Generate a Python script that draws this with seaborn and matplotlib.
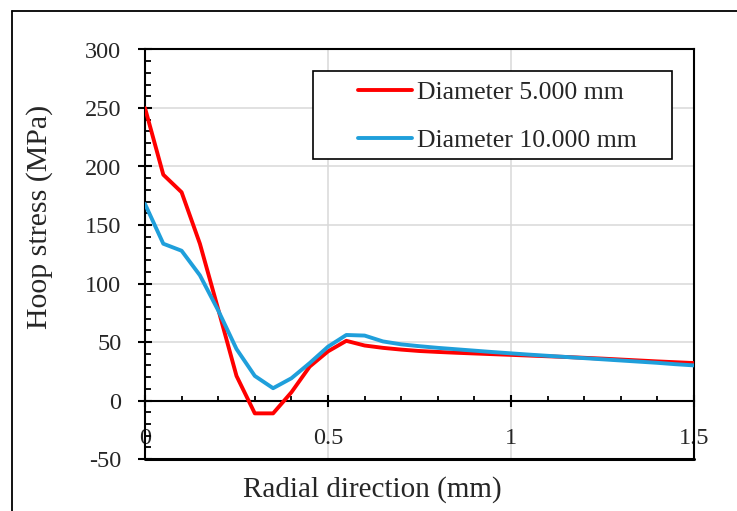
import numpy as np
import pandas as pd
import seaborn as sns
import matplotlib
matplotlib.use("Agg")
import matplotlib.pyplot as plt
from matplotlib.patches import Rectangle
from matplotlib.lines import Line2D
from matplotlib.ticker import MultipleLocator

# ---- data ----
radial = [0.00, 0.05, 0.10, 0.15, 0.20, 0.25, 0.30, 0.35, 0.40, 0.45,
          0.50, 0.55, 0.60, 0.65, 0.70, 0.75, 0.80, 0.85, 0.90, 0.95,
          1.00, 1.05, 1.10, 1.15, 1.20, 1.25, 1.30, 1.35, 1.40, 1.45, 1.50]
stress_d5 = [250, 193, 178, 134, 78, 21, -11, -11, 7, 29,
             42, 51, 47, 45, 43.5, 42.3, 41.5, 40.8, 40.2, 39.6,
             39, 38.4, 37.8, 37.2, 36.5, 35.8, 35, 34.2, 33.4, 32.7, 32]
stress_d10 = [168, 134, 128, 107, 77, 44, 21, 10.5, 19, 32,
              46, 56, 55.5, 50.5, 48, 46.4, 45, 43.8, 42.6, 41.4,
              40.3, 39.2, 38.2, 37.2, 36.2, 35.2, 34.2, 33.2, 32.2, 31, 30]
series_names = ["Diameter 5.000 mm", "Diameter 10.000 mm"]
series_colors = ["#FF0000", "#1F9FDB"]
x_ticks = [0, 0.5, 1, 1.5]
x_ticklabels = ["0", "0.5", "1", "1.5"]
y_ticks = [-50, 0, 50, 100, 150, 200, 250, 300]

df = pd.concat([
    pd.DataFrame({"x": radial, "y": stress_d5, "series": series_names[0]}),
    pd.DataFrame({"x": radial, "y": stress_d10, "series": series_names[1]}),
], ignore_index=True)

sns.set_style("white")
plt.rcParams["font.family"] = ["Liberation Serif", "DejaVu Serif"]
plt.rcParams["axes.unicode_minus"] = False

W, H = 737, 511
fig = plt.figure(figsize=(W / 100, H / 100), dpi=100)
ax = fig.add_axes([145 / W, 1 - 459 / H, (694 - 145) / W, (459 - 49.5) / H])

sns.lineplot(data=df, x="x", y="y", hue="series", palette=series_colors,
             hue_order=series_names, linewidth=2.8, ax=ax, legend=False,
             sort=False, zorder=3)

ax.set_xlim(0, 1.5)
ax.set_ylim(-50, 300)

# grid
ax.set_xticks(x_ticks)
ax.set_xticklabels(x_ticklabels)
ax.set_yticks(y_ticks)
ax.xaxis.set_minor_locator(MultipleLocator(0.1))
ax.yaxis.set_minor_locator(MultipleLocator(10))
ax.grid(True, which="major", color="#D9D9D9", linewidth=1.1, zorder=0)
ax.set_axisbelow(True)

# spines
for s in ["top", "right", "left"]:
    ax.spines[s].set_color("black")
    ax.spines[s].set_linewidth(1.5)
    ax.spines[s].set_visible(True)
ax.spines["bottom"].set_position(("data", 0))
ax.spines["bottom"].set_color("black")
ax.spines["bottom"].set_linewidth(1.5)
ax.plot([0, 1], [0, 0], transform=ax.transAxes, color="black", lw=2.2,
        clip_on=False, zorder=4)

ax.tick_params(axis="x", which="major", direction="inout", length=9, width=1.5,
               pad=15, labelsize=17.5, color="black", bottom=True)
ax.tick_params(axis="x", which="minor", direction="in", length=3.8, width=1.3,
               color="black", bottom=True)
ax.tick_params(axis="y", which="major", direction="inout", length=10, width=1.5,
               pad=12, labelsize=17.5, color="black", left=True)
ax.tick_params(axis="y", which="minor", direction="in", length=4.3, width=1.3,
               color="black", left=True)

# axis labels
ax.set_xlabel("Radial direction (mm)", fontsize=21)
ax.xaxis.set_label_coords((372.5 - 145) / 549, (459 - 490) / 409.5)
ax.xaxis.label.set_va("center")
ax.set_ylabel("Hoop stress (MPa)", fontsize=21.5)
ax.yaxis.set_label_coords((40 - 145) / 549, (459 - 217) / 409.5)
ax.yaxis.label.set_va("center")

# legend (frame drawn separately)
ax.add_patch(Rectangle(((313 - 145) / 549, (459 - 159) / 409.5),
                       (672 - 313) / 549, (159 - 71) / 409.5,
                       transform=ax.transAxes, facecolor="white",
                       edgecolor="black", lw=1.2, zorder=5))
handles = [Line2D([], [], color=c, lw=2.8) for c in series_colors]
leg = ax.legend(handles, series_names, loc="center left",
                bbox_to_anchor=((358 - 145) / 549, (459 - 116.5) / 409.5),
                frameon=False, fontsize=18.5, handlelength=2.1,
                handletextpad=0.2, labelspacing=0.98, borderpad=0,
                borderaxespad=0)
leg.set_zorder(6)

# outer chart border
fig.add_artist(Line2D([12 / W, 12 / W], [0, 1 - 11 / H], transform=fig.transFigure,
                      color="black", lw=1.3))
fig.add_artist(Line2D([12 / W, 1], [1 - 11 / H, 1 - 11 / H], transform=fig.transFigure,
                      color="black", lw=1.3))

fig.savefig("out.png", dpi=100)
